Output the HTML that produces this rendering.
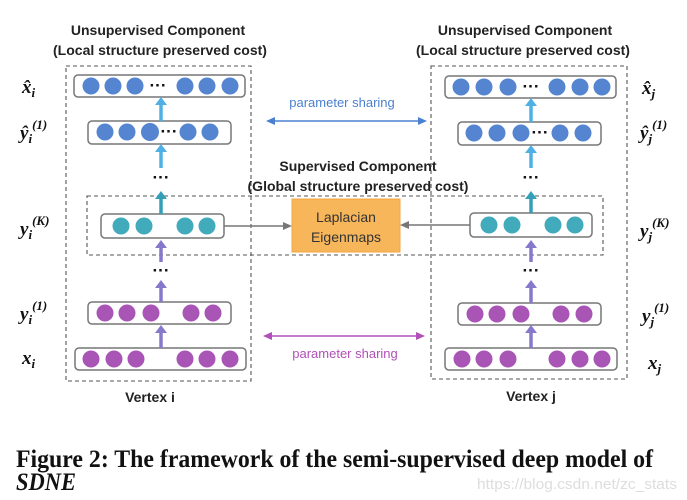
<!DOCTYPE html>
<html><head><meta charset="utf-8"><style>
html,body{margin:0;padding:0;background:#fff;width:687px;height:500px;overflow:hidden}
svg{display:block}
.t{font-family:"Liberation Sans",sans-serif;font-weight:bold;font-size:14px;fill:#222}
.m{font-family:"Liberation Serif",serif;font-weight:bold;font-style:italic;fill:#111}
</style></head><body>
<svg width="687" height="500" viewBox="0 0 687 500" xmlns="http://www.w3.org/2000/svg">
<text class="t" x="158" y="35" text-anchor="middle">Unsupervised Component</text>
<text class="t" x="160" y="55" text-anchor="middle">(Local structure preserved cost)</text>
<text class="t" x="525" y="35" text-anchor="middle">Unsupervised Component</text>
<text class="t" x="523" y="55" text-anchor="middle">(Local structure preserved cost)</text>
<text class="t" x="358" y="171" text-anchor="middle">Supervised Component</text>
<text class="t" x="358" y="191" text-anchor="middle">(Global structure preserved cost)</text>
<g fill="none" stroke="#555" stroke-width="1.1" stroke-dasharray="4,3">
<rect x="66" y="66" width="185" height="315"/>
<rect x="431" y="66" width="196" height="313"/>
<rect x="87" y="196" width="516" height="59"/>
</g>
<g fill="#fff" stroke="#777" stroke-width="1.5">
<rect x="74" y="75" width="171" height="22" rx="4"/>
<rect x="88" y="121" width="143" height="23" rx="4"/>
<rect x="101" y="214" width="123" height="24" rx="4"/>
<rect x="88" y="302" width="143" height="22" rx="4"/>
<rect x="75" y="348" width="171" height="22" rx="4"/>
<rect x="445" y="76" width="171" height="22" rx="4"/>
<rect x="458" y="122" width="143" height="23" rx="4"/>
<rect x="470" y="213" width="122" height="24" rx="4"/>
<rect x="458" y="303" width="143" height="22" rx="4"/>
<rect x="445" y="348" width="172" height="22" rx="4"/>
</g>
<g fill="#5585d0">
<circle cx="91" cy="86" r="8.5"/><circle cx="113" cy="86" r="8.5"/><circle cx="135" cy="86" r="8.5"/><circle cx="185" cy="86" r="8.5"/><circle cx="207" cy="86" r="8.5"/><circle cx="230" cy="86" r="8.5"/>
<circle cx="105" cy="132" r="8.5"/><circle cx="127" cy="132" r="8.5"/><circle cx="150" cy="132" r="9"/><circle cx="188" cy="132" r="8.5"/><circle cx="210" cy="132" r="8.5"/>
<circle cx="461" cy="87" r="8.5"/><circle cx="484" cy="87" r="8.5"/><circle cx="508" cy="87" r="8.5"/><circle cx="557" cy="87" r="8.5"/><circle cx="580" cy="87" r="8.5"/><circle cx="602" cy="87" r="8.5"/>
<circle cx="474" cy="133" r="8.5"/><circle cx="497" cy="133" r="8.5"/><circle cx="521" cy="133" r="8.5"/><circle cx="560" cy="133" r="8.5"/><circle cx="583" cy="133" r="8.5"/>
</g>
<g fill="#41aabb">
<circle cx="121" cy="226" r="8.5"/><circle cx="144" cy="226" r="8.5"/><circle cx="185" cy="226" r="8.5"/><circle cx="207" cy="226" r="8.5"/>
<circle cx="489" cy="225" r="8.5"/><circle cx="512" cy="225" r="8.5"/><circle cx="553" cy="225" r="8.5"/><circle cx="575" cy="225" r="8.5"/>
</g>
<g fill="#a855b5">
<circle cx="105" cy="313" r="8.5"/><circle cx="127" cy="313" r="8.5"/><circle cx="151" cy="313" r="8.5"/><circle cx="191" cy="313" r="8.5"/><circle cx="213" cy="313" r="8.5"/>
<circle cx="91" cy="359" r="8.5"/><circle cx="114" cy="359" r="8.5"/><circle cx="136" cy="359" r="8.5"/><circle cx="185" cy="359" r="8.5"/><circle cx="207" cy="359" r="8.5"/><circle cx="230" cy="359" r="8.5"/>
<circle cx="475" cy="314" r="8.5"/><circle cx="497" cy="314" r="8.5"/><circle cx="521" cy="314" r="8.5"/><circle cx="561" cy="314" r="8.5"/><circle cx="584" cy="314" r="8.5"/>
<circle cx="462" cy="359" r="8.5"/><circle cx="484" cy="359" r="8.5"/><circle cx="508" cy="359" r="8.5"/><circle cx="557" cy="359" r="8.5"/><circle cx="580" cy="359" r="8.5"/><circle cx="602" cy="359" r="8.5"/>
</g>
<g font-family="Liberation Sans,sans-serif" font-weight="bold" font-size="17" fill="#111" text-anchor="middle">
<text x="158" y="91">···</text><text x="169" y="137">···</text><text x="161" y="183">···</text><text x="161" y="276">···</text>
<text x="531" y="92">···</text><text x="540" y="138">···</text><text x="531" y="183">···</text><text x="531" y="276">···</text>
</g>
<g stroke-width="3.5">
<line x1="161" y1="121" x2="161" y2="104" stroke="#4fb0e6"/><line x1="161" y1="168" x2="161" y2="150" stroke="#4fb0e6"/>
<line x1="161" y1="214" x2="161" y2="197" stroke="#33a0b8"/>
<line x1="161" y1="262" x2="161" y2="246" stroke="#8878cc"/><line x1="161" y1="302" x2="161" y2="286" stroke="#8878cc"/><line x1="161" y1="348" x2="161" y2="331" stroke="#8878cc"/>
<line x1="531" y1="122" x2="531" y2="105" stroke="#4fb0e6"/><line x1="531" y1="168" x2="531" y2="151" stroke="#4fb0e6"/>
<line x1="531" y1="213" x2="531" y2="197" stroke="#33a0b8"/>
<line x1="531" y1="262" x2="531" y2="246" stroke="#8878cc"/><line x1="531" y1="303" x2="531" y2="286" stroke="#8878cc"/><line x1="531" y1="348" x2="531" y2="331" stroke="#8878cc"/>
</g>
<g>
<path d="M155,105 L161,97 L167,105z" fill="#4fb0e6"/><path d="M155,152 L161,144 L167,152z" fill="#4fb0e6"/>
<path d="M155,199 L161,191 L167,199z" fill="#33a0b8"/>
<path d="M155,248 L161,240 L167,248z" fill="#8878cc"/><path d="M155,288 L161,280 L167,288z" fill="#8878cc"/><path d="M155,333 L161,325 L167,333z" fill="#8878cc"/>
<path d="M525,106 L531,98 L537,106z" fill="#4fb0e6"/><path d="M525,153 L531,145 L537,153z" fill="#4fb0e6"/>
<path d="M525,199 L531,191 L537,199z" fill="#33a0b8"/>
<path d="M525,248 L531,240 L537,248z" fill="#8878cc"/><path d="M525,288 L531,280 L537,288z" fill="#8878cc"/><path d="M525,333 L531,325 L537,333z" fill="#8878cc"/>
</g>
<text x="342" y="107" text-anchor="middle" font-family="Liberation Sans,sans-serif" font-size="13" fill="#4a80d0">parameter sharing</text>
<line x1="272" y1="121" x2="421" y2="121" stroke="#4a80d0" stroke-width="1.5"/>
<path d="M266,121 L275,117 L275,125z" fill="#4a80d0"/><path d="M427,121 L418,117 L418,125z" fill="#4a80d0"/>
<text x="345" y="358" text-anchor="middle" font-family="Liberation Sans,sans-serif" font-size="13" fill="#b050b8">parameter sharing</text>
<line x1="269" y1="336" x2="419" y2="336" stroke="#b050b8" stroke-width="1.5"/>
<path d="M263,336 L272,332 L272,340z" fill="#b050b8"/><path d="M425,336 L416,332 L416,340z" fill="#b050b8"/>
<rect x="292" y="199" width="108" height="53" fill="#f8b65a" stroke="#f0a540" stroke-width="1"/>
<text x="346" y="222" text-anchor="middle" font-family="Liberation Sans,sans-serif" font-size="14" fill="#333">Laplacian</text>
<text x="346" y="242" text-anchor="middle" font-family="Liberation Sans,sans-serif" font-size="14" fill="#333">Eigenmaps</text>
<line x1="224" y1="226" x2="285" y2="226" stroke="#777" stroke-width="1.5"/><path d="M292,226 L283,222 L283,230z" fill="#777"/>
<line x1="470" y1="225" x2="407" y2="225" stroke="#777" stroke-width="1.5"/><path d="M400,225 L409,221 L409,229z" fill="#777"/>
<g class="m" font-size="19">
<text x="22" y="93">x̂<tspan font-size="13" dy="4">i</tspan></text>
<text x="20" y="139">ŷ<tspan font-size="13" dy="4">i</tspan><tspan font-size="13" dy="-14">(1)</tspan></text>
<text x="20" y="235">y<tspan font-size="13" dy="4">i</tspan><tspan font-size="13" dy="-14">(K)</tspan></text>
<text x="20" y="320">y<tspan font-size="13" dy="4">i</tspan><tspan font-size="13" dy="-14">(1)</tspan></text>
<text x="22" y="364">x<tspan font-size="13" dy="4">i</tspan></text>
<text x="642" y="94">x̂<tspan font-size="13" dy="4">j</tspan></text>
<text x="640" y="139">ŷ<tspan font-size="13" dy="4">j</tspan><tspan font-size="13" dy="-14">(1)</tspan></text>
<text x="640" y="237">y<tspan font-size="13" dy="4">j</tspan><tspan font-size="13" dy="-14">(K)</tspan></text>
<text x="642" y="322">y<tspan font-size="13" dy="4">j</tspan><tspan font-size="13" dy="-14">(1)</tspan></text>
<text x="648" y="369">x<tspan font-size="13" dy="4">j</tspan></text>
</g>
<text class="t" x="150" y="402" text-anchor="middle" font-size="13">Vertex i</text>
<text class="t" x="531" y="401" text-anchor="middle" font-size="13">Vertex j</text>
<text x="16" y="467" font-family="Liberation Serif,serif" font-weight="bold" font-size="25" fill="#111" textLength="637" lengthAdjust="spacingAndGlyphs">Figure 2: The framework of the semi-supervised deep model of</text>
<text x="16" y="490" font-family="Liberation Serif,serif" font-weight="bold" font-style="italic" font-size="25" fill="#111" textLength="60" lengthAdjust="spacingAndGlyphs">SDNE</text>
<text x="477" y="489" font-family="Liberation Sans,sans-serif" font-size="15" fill="#ddd" textLength="200" lengthAdjust="spacingAndGlyphs">https://blog.csdn.net/zc_stats</text>
</svg>
</body></html>
